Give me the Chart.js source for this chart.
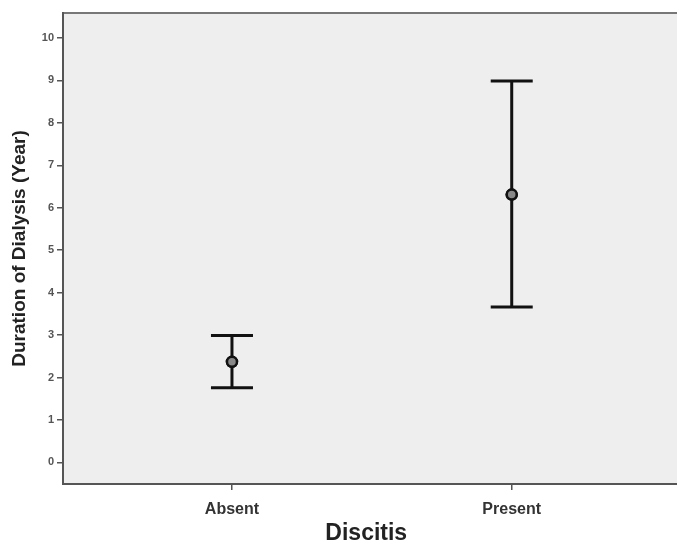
<!DOCTYPE html>
<html>
<head>
<meta charset="utf-8">
<script src="https://cdn.jsdelivr.net/npm/chart.js@4.4.1/dist/chart.umd.min.js"></script>
<style>
  html, body { margin: 0; padding: 0; background: #fff; overflow: hidden; }
</style>
</head>
<body>
<canvas id="grafico" width="677" height="542"></canvas>
<script>
// dati
const categorie = ["Absent", "Present"];
const medie = [2.37, 6.31];
const limiteInf = [1.76, 3.66];
const limiteSup = [2.99, 8.99];
const tickY = [0, 1, 2, 3, 4, 5, 6, 7, 8, 9, 10];

const font = "'Liberation Sans', Arial, sans-serif";

// sfondo grigio dell'area (fino al bordo destro della tela) e bordo superiore
const sfondo = {
    id: "sfondo",
    beforeDraw(chart) {
        const { ctx, chartArea: a } = chart;
        ctx.save();
        ctx.fillStyle = "#eeeeee";
        ctx.fillRect(a.left, a.top, chart.width - a.left, a.bottom - a.top);
        ctx.strokeStyle = "#777";
        ctx.lineWidth = 2;
        ctx.beginPath();
        ctx.moveTo(a.left, a.top);
        ctx.lineTo(chart.width, a.top);
        ctx.stroke();
        ctx.restore();
    },
    afterDraw(chart) {
        // prolunga l'asse x fino al bordo della tela
        const { ctx, chartArea: a } = chart;
        ctx.save();
        ctx.strokeStyle = "#555";
        ctx.lineWidth = 2;
        ctx.beginPath();
        ctx.moveTo(a.right - 2, a.bottom);
        ctx.lineTo(chart.width, a.bottom);
        ctx.stroke();
        ctx.restore();
    }
};

// barre di errore disegnate con le scale di Chart.js
const barreErrore = {
    id: "barreErrore",
    afterDatasetsDraw(chart) {
        const { ctx, scales } = chart;
        const cap = 21;
        ctx.save();
        ctx.strokeStyle = "#111";
        ctx.lineWidth = 3;
        categorie.forEach((c, i) => {
            const x = scales.x.getPixelForValue(i);
            const y1 = scales.y.getPixelForValue(limiteInf[i]);
            const y2 = scales.y.getPixelForValue(limiteSup[i]);
            ctx.beginPath();
            ctx.moveTo(x, y1); ctx.lineTo(x, y2);
            ctx.moveTo(x - cap, y1); ctx.lineTo(x + cap, y1);
            ctx.moveTo(x - cap, y2); ctx.lineTo(x + cap, y2);
            ctx.stroke();
        });
        ctx.restore();
        // ridisegna i punti sopra le linee
        chart.getDatasetMeta(0).data.forEach(p => p.draw(ctx, chart.chartArea));
    }
};

new Chart(document.getElementById("grafico"), {
    type: "scatter",
    data: {
        datasets: [{
            data: medie.map((m, i) => ({ x: i, y: m })),
            pointRadius: 5,
            pointBorderWidth: 2.5,
            pointBorderColor: "#111",
            pointBackgroundColor: "#888"
        }]
    },
    options: {
        responsive: false,
        animation: false,
        layout: { padding: { top: 13, right: 0, left: 0, bottom: 0 } },
        plugins: { legend: { display: false }, tooltip: { enabled: false } },
        scales: {
            x: {
                type: "linear",
                min: -0.604,
                max: 1.564,
                afterBuildTicks(s) { s.ticks = categorie.map((c, i) => ({ value: i })); },
                afterFit(s) { s.height = 58; },
                ticks: {
                    callback: v => categorie[v] || "",
                    color: "#333",
                    font: { family: font, size: 16, weight: "bold" },
                    padding: 10,
                    maxRotation: 0
                },
                grid: { drawOnChartArea: false, tickLength: 6, color: "#555", lineWidth: 1.5 },
                border: { color: "#555", width: 2 },
                title: {
                    display: true,
                    text: "Discitis",
                    color: "#222",
                    font: { family: font, size: 23, weight: "bold" },
                    padding: { top: 0, bottom: -5 }
                }
            },
            y: {
                min: -0.51,
                max: 10.59,
                afterBuildTicks(s) { s.ticks = tickY.map(v => ({ value: v })); },
                afterFit(s) { s.width = 63; },
                ticks: {
                    color: "#555",
                    font: { family: font, size: 11, weight: "bold" },
                    padding: 3
                },
                grid: { drawOnChartArea: false, tickLength: 6, color: "#555", lineWidth: 1.5 },
                border: { color: "#555", width: 2 },
                title: {
                    display: true,
                    text: "Duration of Dialysis (Year)",
                    color: "#222",
                    font: { family: font, size: 19, weight: "bold" },
                    padding: { top: 8, bottom: 0 }
                }
            }
        }
    },
    plugins: [sfondo, barreErrore]
});
</script>
</body>
</html>
